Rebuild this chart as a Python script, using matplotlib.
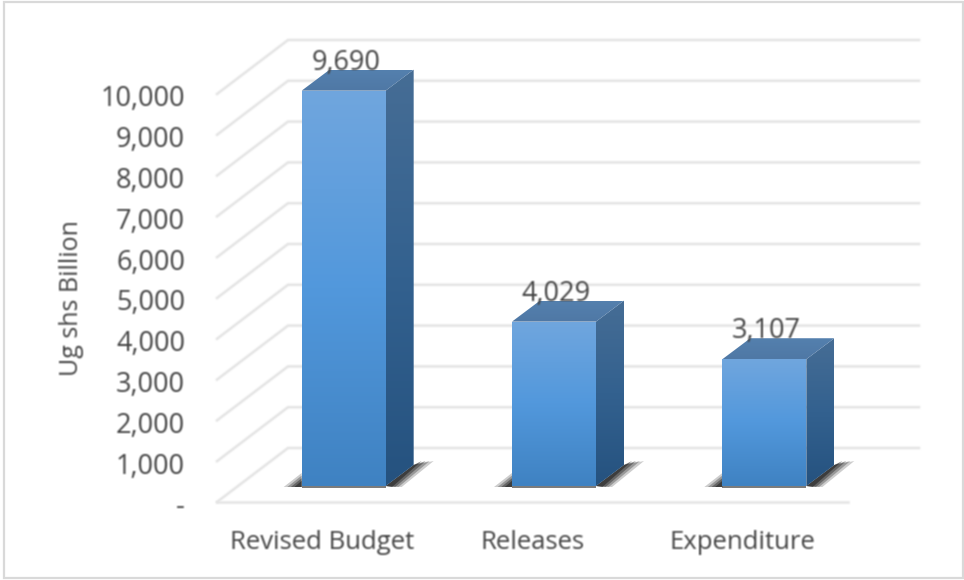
import numpy as np
import matplotlib
matplotlib.use("Agg")
import matplotlib.pyplot as plt
from matplotlib.patches import Polygon, Rectangle
from matplotlib.colors import LinearSegmentedColormap
from matplotlib.transforms import ScaledTranslation

categories = ["Revised Budget", "Releases", "Expenditure"]
values = [9690, 4029, 3107]
value_labels = ["9,690", "4,029", "3,107"]
yticks = [0, 1000, 2000, 3000, 4000, 5000, 6000, 7000, 8000, 9000, 10000]
yticklabels = ["-", "1,000", "2,000", "3,000", "4,000", "5,000", "6,000", "7,000", "8,000", "9,000", "10,000"]
ylabel = "Ug shs Billion"

W, H = 964, 580
FONT = "Open Sans"
TXT = "#454545"
plt.rcParams["font.family"] = [FONT, "DejaVu Sans"]


def soften(img, dpi):
    """Small blur used as an agg_filter, to match the soft look of the source."""
    pad = 3
    a = np.pad(img, ((pad, pad), (pad, pad), (0, 0)))
    alpha = a[..., 3:4]
    pm = np.concatenate([a[..., :3] * alpha, alpha], axis=2)
    k = np.array([0.27, 0.46, 0.27])
    for axis in (0, 1):
        pm = np.apply_along_axis(lambda m: np.convolve(m, k, mode="same"), axis, pm)
    al = pm[..., 3:4]
    rgb = np.where(al > 1e-4, pm[..., :3] / np.maximum(al, 1e-4), 0)
    return np.concatenate([np.clip(rgb, 0, 1), al], axis=2), -pad, -pad


fig = plt.figure(figsize=(W / 100, H / 100), dpi=100, facecolor="white")
fig.add_artist(Rectangle((4 / W, 1 - 578 / H), 958.5 / W, 576 / H, transform=fig.transFigure,
                         fill=False, ec="#D9D9D9", lw=1.6))

L, R, T, B = 217, 848, 94, 502
ax = fig.add_axes([L / W, 1 - B / H, (R - L) / W, (B - T) / H])
ax.set_xlim(-0.5, 2.5)
ax.set_ylim(0, 10000)
ax.patch.set_visible(False)
for s in ax.spines.values():
    s.set_visible(False)

px_x = (R - L) / 3.0
px_y = (B - T) / 10000.0
floor_dx, floor_dy = 71 / px_x, 54 / px_y
off_dx, off_dy = 21.5 / px_x, 16 / px_y
bar_dx, bar_dy = 28 / px_x, 21 / px_y
half = 42 / px_x


def gradient(poly_xy, stops, z):
    """Vertical gradient filling a polygon given in data coordinates."""
    poly_xy = np.array(poly_xy)
    x0, x1 = poly_xy[:, 0].min(), poly_xy[:, 0].max()
    y0, y1 = poly_xy[:, 1].min(), poly_xy[:, 1].max()
    cmap = LinearSegmentedColormap.from_list("g", stops)
    im = ax.imshow(np.linspace(1, 0, 256).reshape(-1, 1), cmap=cmap, aspect="auto",
                   extent=(x0, x1, y0, y1), origin="upper", zorder=z, interpolation="bilinear")
    clip = Polygon(poly_xy, transform=ax.transData, fc="none", ec="none", clip_on=False)
    ax.add_patch(clip)
    im.set_clip_box(fig.bbox)
    im.set_clip_path(clip)


# walls and floor gridlines
GRID = "#E4E4E4"
for t in yticks:
    ln, = ax.plot([-0.5, -0.5 + floor_dx, 2.5 + floor_dx],
                  [t, t + floor_dy, t + floor_dy], color=GRID, lw=1.8, clip_on=False, zorder=1,
                  solid_joinstyle="miter")
    ln.set_agg_filter(soften)
ln, = ax.plot([-0.5, 2.5], [0, 0], color=GRID, lw=1.8, clip_on=False, zorder=1)
ln.set_agg_filter(soften)

FRONT = ["#3F82C2", "#5298DC", "#70A6DE"]
SIDE = ["#25527F", "#33618F", "#466D95"]
TOP = ["#4F78A5", "#5480AE"]

for i, (v, lab) in enumerate(zip(values, value_labels)):
    xl = i + off_dx - half
    xr = i + off_dx + half
    y0 = off_dy
    y1 = off_dy + v
    # floor shadow: stacked translucent layers give a soft edge
    for g, a in [(1.0, 0.22), (0.8, 0.3), (0.6, 0.4), (0.4, 0.55)]:
        ax.add_patch(Polygon([(xr, y0), (xr + bar_dx, y0 + bar_dy),
                              (xr + bar_dx + g * 20 / px_x, y0 + bar_dy + 4 / px_y),
                              (xr + g * 16 / px_x, y0 - 1 / px_y)],
                             fc="#1C1C1C", ec="none", alpha=a, zorder=2, clip_on=False))
        ax.add_patch(Polygon([(xl, y0 - 1 / px_y), (xl, y0 + g * 13 / px_y),
                              (xl - g * 18 / px_x, y0 - 1 / px_y)],
                             fc="#1C1C1C", ec="none", alpha=a, zorder=2, clip_on=False))
    ax.add_patch(Polygon([(xl, y0 - 2 / px_y), (xr, y0 - 2 / px_y), (xr, y0), (xl, y0)],
                         fc="#444444", ec="none", alpha=0.7, zorder=2, clip_on=False))
    gradient([(xl, y0), (xr, y0), (xr, y1), (xl, y1)], FRONT, 4)
    gradient([(xr, y0), (xr + bar_dx, y0 + bar_dy), (xr + bar_dx, y1 + bar_dy), (xr, y1)], SIDE, 4)
    gradient([(xl, y1), (xr, y1), (xr + bar_dx, y1 + bar_dy), (xl + bar_dx, y1 + bar_dy)], TOP, 4)
    t = ax.text(i + off_dx + 2 / px_x, y1 + 21 / px_y, lab, ha="center", va="baseline", fontsize=19.5,
                color=TXT, zorder=6, clip_on=False)
    t.set_agg_filter(soften)

ax.set_xlim(-0.5, 2.5)
ax.set_ylim(0, 10000)
ax.set_xticks(range(3))
ax.set_xticklabels(categories, fontsize=18.5, color=TXT)
ax.set_yticks(yticks)
ax.set_yticklabels(yticklabels, fontsize=19.5, color=TXT)
ax.tick_params(axis="both", length=0)
ax.tick_params(axis="x", pad=20)
ax.tick_params(axis="y", pad=23)
shift = ScaledTranslation(0, -2 / 100, fig.dpi_scale_trans)
for lb in ax.get_yticklabels():
    lb.set_transform(lb.get_transform() + shift)
    lb.set_agg_filter(soften)
for lb in ax.get_xticklabels():
    lb.set_agg_filter(soften)
yl = fig.text(71 / W, 1 - 298 / H, ylabel, rotation=90, ha="center", va="center", fontsize=18, color=TXT)
yl.set_agg_filter(soften)

fig.savefig("out.png", dpi=100, facecolor="white")
